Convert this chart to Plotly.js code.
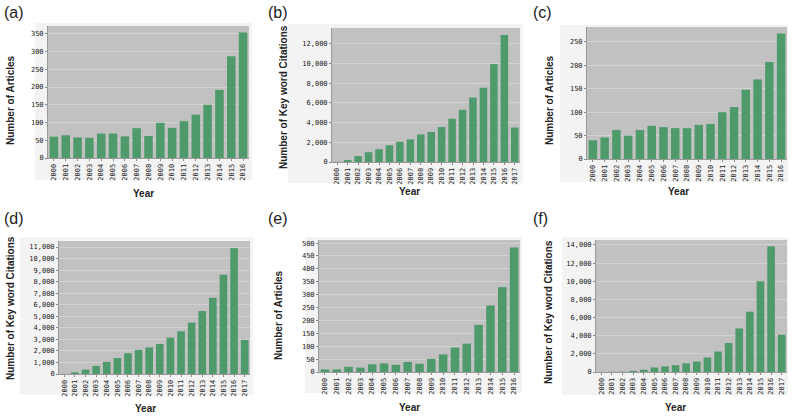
<!DOCTYPE html>
<html>
<head>
<meta charset="utf-8">
<script src="https://cdn.plot.ly/plotly-3.0.1.min.js"></script>
<style>html,body{margin:0;padding:0;background:#fff;}#chart{width:800px;height:417px;}</style>
</head>
<body>
<div id="chart"></div>
<script>
const years2016 = ["2000","2001","2002","2003","2004","2005","2006","2007","2008","2009","2010","2011","2012","2013","2014","2015","2016"];
const years2017 = ["2000","2001","2002","2003","2004","2005","2006","2007","2008","2009","2010","2011","2012","2013","2014","2015","2016","2017"];
const articlesA = [60,64,58,57,69,69,61,84,62,99,85,104,122,150,192,287,354];
const citationsB = [20,200,600,1000,1300,1700,2050,2300,2800,3050,3550,4400,5300,6550,7550,9950,12900,3500];
const articlesC = [40,46,62,50,62,71,68,66,66,73,75,100,111,148,170,207,268];
const citationsD = [10,150,380,700,1050,1380,1800,2080,2300,2600,3150,3700,4450,5450,6600,8600,10900,2950];
const articlesE = [10,10,20,17,30,33,28,39,32,51,68,95,110,183,258,329,483];
const citationsF = [5,15,30,120,250,500,620,750,950,1150,1600,2250,3200,4800,6650,10000,13850,4100];
const panelLabels = ["(a)","(b)","(c)","(d)","(e)","(f)"];
const yTitles = ["Number of Articles","Number of Key word Citations","Number of Articles","Number of Key word Citations","Number of Articles","Number of Key word Citations"];
const xTitle = "Year";

const W = 800, H = 417;
const px = x => x / W;
const py = y => 1 - y / H;

const panels = [
  {x: years2016, y: articlesA,  plot:[48,249,26,158],  frame:[35,252,23,180],  yr:[0,372],   dt:50,   lab:[2,12],    yt:[10,100],  xt:[143,193]},
  {x: years2017, y: citationsB, plot:[332,520,28,162], frame:[288,523,24,183], yr:[0,13620], dt:2000, lab:[266,12],  yt:[283,97],  xt:[409,191]},
  {x: years2016, y: articlesC,  plot:[587,787,27,159], frame:[560,788,25,182], yr:[0,282],   dt:50,   lab:[531,12],  yt:[549,100], xt:[678,191]},
  {x: years2017, y: citationsD, plot:[59,250,241,374], frame:[20,253,237,395], yr:[0,11520], dt:1000, lab:[2,218],   yt:[10,308],  xt:[145,408]},
  {x: years2016, y: articlesE,  plot:[319,520,240,372],frame:[305,522,237,393],yr:[0,512],   dt:50,   lab:[266,218], yt:[278,315], xt:[410,407]},
  {x: years2017, y: citationsF, plot:[596,787,240,372],frame:[562,788,237,395],yr:[0,14550], dt:2000, lab:[531,218], yt:[548,312], xt:[675,407]}
];

const data = [];
const layout = {
  width: W, height: H,
  margin: {l:0, r:0, t:0, b:0},
  paper_bgcolor: "#ffffff",
  plot_bgcolor: "rgba(0,0,0,0)",
  showlegend: false,
  bargap: 0.28,
  shapes: [],
  annotations: []
};

panels.forEach((p, i) => {
  const n = i + 1;
  const xa = n === 1 ? "x" : "x" + n;
  const ya = n === 1 ? "y" : "y" + n;
  data.push({
    type: "bar", x: p.x, y: p.y, xaxis: xa, yaxis: ya,
    marker: {color: "#4f9a6b", line: {width: 0}},
    hoverinfo: "x+y"
  });
  const xk = n === 1 ? "xaxis" : "xaxis" + n;
  const yk = n === 1 ? "yaxis" : "yaxis" + n;
  layout[xk] = {
    domain: [px(p.plot[0]), px(p.plot[1])],
    anchor: ya,
    type: "category",
    tickangle: -90,
    tickfont: {family: "DejaVu Sans Mono, monospace", size: 7, color: "#222"},
    ticks: "outside", ticklen: 2, tickcolor: "#888",
    showgrid: false, showline: true, linecolor: "#9a9a9a", linewidth: 1,
    fixedrange: true
  };
  layout[yk] = {
    domain: [py(p.plot[3]), py(p.plot[2])],
    anchor: xa,
    range: p.yr,
    dtick: p.dt,
    tickformat: ",d",
    tickfont: {family: "DejaVu Sans Mono, monospace", size: 7, color: "#222"},
    ticks: "outside", ticklen: 2, tickcolor: "#888",
    showgrid: true, gridcolor: "#d2d2d2", gridwidth: 1,
    zeroline: false, showline: true, linecolor: "#9a9a9a", linewidth: 1,
    fixedrange: true
  };
  layout.shapes.push({
    type: "rect", xref: "paper", yref: "paper", layer: "below",
    x0: px(p.frame[0]), x1: px(p.frame[1]), y0: py(p.frame[3]), y1: py(p.frame[2]),
    fillcolor: "#f3f3f3", line: {width: 0}
  });
  layout.shapes.push({
    type: "rect", xref: "paper", yref: "paper", layer: "below",
    x0: px(p.plot[0]), x1: px(p.plot[1]), y0: py(p.plot[3]), y1: py(p.plot[2]),
    fillcolor: "#c1c1c1", line: {width: 0}
  });
  layout.annotations.push({
    text: panelLabels[i], xref: "paper", yref: "paper",
    x: px(p.lab[0]), y: py(p.lab[1]), xanchor: "left", yanchor: "middle",
    showarrow: false, font: {family: "Liberation Sans, Arial, sans-serif", size: 16, color: "#222"}
  });
  layout.annotations.push({
    text: "<b>" + yTitles[i] + "</b>", xref: "paper", yref: "paper",
    x: px(p.yt[0]), y: py(p.yt[1]), xanchor: "center", yanchor: "middle",
    textangle: -90, showarrow: false,
    font: {family: "Liberation Sans, Arial, sans-serif", size: 10, color: "#222"}
  });
  layout.annotations.push({
    text: "<b>" + xTitle + "</b>", xref: "paper", yref: "paper",
    x: px(p.xt[0]), y: py(p.xt[1]), xanchor: "center", yanchor: "middle",
    showarrow: false,
    font: {family: "Liberation Sans, Arial, sans-serif", size: 10, color: "#222"}
  });
});

Plotly.newPlot("chart", data, layout, {displayModeBar: false, staticPlot: true});
</script>
</body>
</html>
